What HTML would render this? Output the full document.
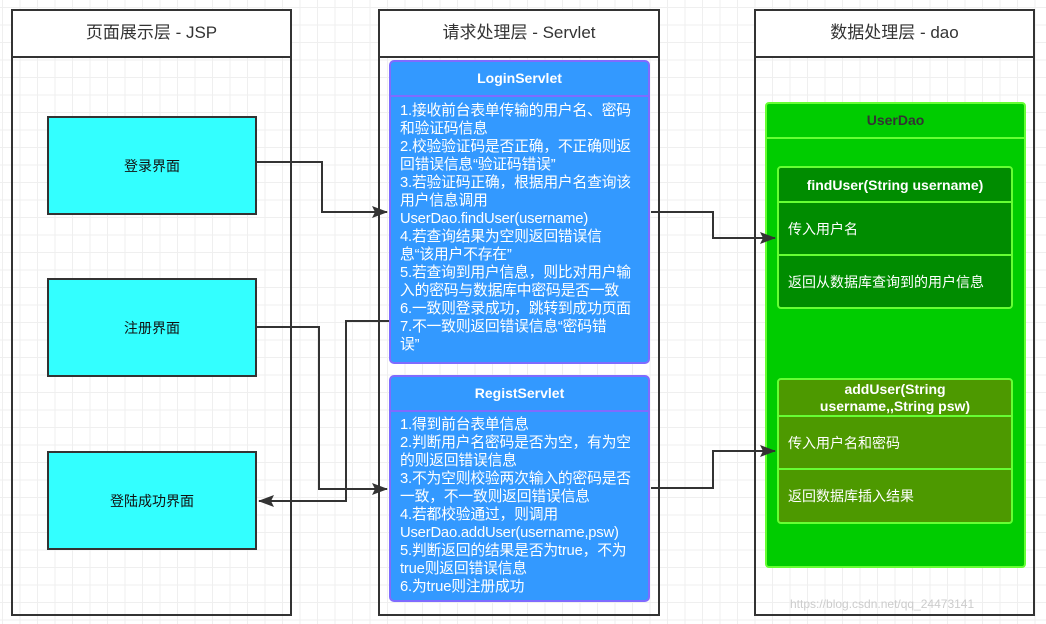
<!DOCTYPE html>
<html><head><meta charset="utf-8"><style>
body{margin:0;width:1046px;height:624px;position:relative;overflow:hidden;background-color:#fff;
background-image:linear-gradient(#efefef 1px,transparent 1px),linear-gradient(90deg,#efefef 1px,transparent 1px);background-size:17.5px 17.5px;background-position:2px 7px;
font-family:"Liberation Sans","Noto Sans CJK SC",sans-serif;}
.a{position:absolute;box-sizing:border-box;}
.lane{border:2px solid #333;background:transparent;}
.lh{border-bottom:2px solid #333;height:45px;background:#fff;text-align:center;line-height:43px;font-size:17px;color:#333;}
.cy{background:#33ffff;border:2px solid #333;font-size:14px;color:#111;display:flex;align-items:center;justify-content:center;}
.sv{background:#3399ff;border:2px solid #7f6bff;border-radius:5px;color:#fff;}
.svh{height:33px;border-bottom:2px solid #7f6bff;text-align:center;font-weight:bold;font-size:14px;line-height:33px;}
.svb{padding:5px 0 0 9px;font-size:14.8px;line-height:18px;white-space:nowrap;letter-spacing:-0.2px}
.g{border:2px solid #66ff33;border-radius:4px;color:#fff;}
.row{border-bottom:2px solid #66ff33;box-sizing:border-box;padding-left:9px;font-size:14px;display:flex;align-items:center;}
</style></head><body>
<div class="a lane" style="left:11px;top:9px;width:281px;height:607px"><div class="lh">页面展示层 - JSP</div></div>
<div class="a lane" style="left:378px;top:9px;width:282px;height:607px"><div class="lh">请求处理层 - Servlet</div></div>
<div class="a lane" style="left:754px;top:9px;width:281px;height:607px"><div class="lh">数据处理层 - dao</div></div>

<div class="a cy" style="left:47px;top:116px;width:210px;height:99px">登录界面</div>
<div class="a cy" style="left:47px;top:278px;width:210px;height:99px">注册界面</div>
<div class="a cy" style="left:47px;top:451px;width:210px;height:99px">登陆成功界面</div>

<div class="a sv" style="left:389px;top:60px;width:261px;height:304px"><div class="svh">LoginServlet</div><div class="svb">1.接收前台表单传输的用户名、密码<br>和验证码信息<br>2.校验验证码是否正确，不正确则返<br>回错误信息“验证码错误”<br>3.若验证码正确，根据用户名查询该<br>用户信息调用<br>UserDao.findUser(username)<br>4.若查询结果为空则返回错误信<br>息“该用户不存在”<br>5.若查询到用户信息，则比对用户输<br>入的密码与数据库中密码是否一致<br>6.一致则登录成功，跳转到成功页面<br>7.不一致则返回错误信息“密码错<br>误”</div></div>
<div class="a sv" style="left:389px;top:375px;width:261px;height:227px"><div class="svh">RegistServlet</div><div class="svb" style="padding-top:4px">1.得到前台表单信息<br>2.判断用户名密码是否为空，有为空<br>的则返回错误信息<br>3.不为空则校验两次输入的密码是否<br>一致，不一致则返回错误信息<br>4.若都校验通过，则调用<br>UserDao.addUser(username,psw)<br>5.判断返回的结果是否为true，不为<br>true则返回错误信息<br>6.为true则注册成功</div></div>

<div class="a g" style="left:765px;top:102px;width:261px;height:466px;background:#00cc00">
<div style="height:33px;border-bottom:2px solid #66ff33;text-align:center;font-weight:bold;font-size:14px;line-height:33px;color:#333">UserDao</div></div>
<div class="a g" style="left:777px;top:166px;width:236px;height:143px;background:#008c00">
<div class="row" style="height:35px;justify-content:center;padding:0;font-weight:bold">findUser(String username)</div>
<div class="row" style="height:53px">传入用户名</div>
<div class="row" style="height:51px;border:0">返回从数据库查询到的用户信息</div></div>
<div class="a g" style="left:777px;top:378px;width:236px;height:146px;background:#4d9900">
<div class="row" style="height:37px;justify-content:center;padding:0;font-weight:bold;text-align:center;line-height:17px">addUser(String<br>username,,String psw)</div>
<div class="row" style="height:53px">传入用户名和密码</div>
<div class="row" style="height:52px;border:0">返回数据库插入结果</div></div>

<svg class="a" style="left:0;top:0" width="1046" height="624">
<defs><marker id="m" markerWidth="16" markerHeight="12" refX="15" refY="6" orient="auto" markerUnits="userSpaceOnUse"><path d="M0,0L16,6L0,12L3,6z" fill="#333"/></marker></defs>
<g fill="none" stroke="#333" stroke-width="2">
<polyline points="257,162 322,162 322,212 387,212" marker-end="url(#m)"/>
<polyline points="257,327 319,327 319,489 387,489" marker-end="url(#m)"/>
<polyline points="389,321 346,321 346,501 259,501" marker-end="url(#m)"/>
<polyline points="651,212 713,212 713,238 775,238" marker-end="url(#m)"/>
<polyline points="651,488 713,488 713,451 775,451" marker-end="url(#m)"/>
</g></svg>
<div class="a" style="left:790px;top:597px;font-size:12px;color:#ccc">https://blog.csdn.net/qq_24473141</div>
</body></html>
